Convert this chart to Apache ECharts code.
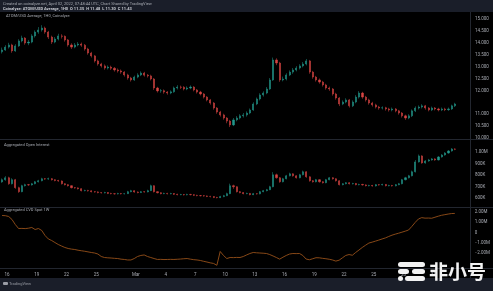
<!DOCTYPE html>
<html><head><meta charset="utf-8">
<script src="https://cdn.jsdelivr.net/npm/echarts@6/dist/echarts.min.js"></script>
<style>html,body{margin:0;padding:0;background:#000;}#c{width:493px;height:291px;}</style>
</head><body><div id="c"></div>
<script>
// ---- data (8h bars from 2022-02-15 12:00 UTC) ----
const barStart = Date.UTC(2022, 1, 15, 12);
const barStepHours = 8;
// price candles [open, close, low, high]
const priceOHLC = [
[13.62,13.70,13.55,13.80],[13.70,13.82,13.66,13.90],[13.82,13.91,13.76,14.00],[13.91,13.66,13.58,13.96],[13.66,13.87,13.62,13.94],
[13.87,14.08,13.83,14.15],[14.08,14.20,14.02,14.30],[14.20,13.99,13.92,14.24],[13.99,14.03,13.90,14.12],[14.03,14.29,13.98,14.36],
[14.29,14.45,14.22,14.52],[14.45,14.54,14.38,14.66],[14.54,14.62,14.47,14.74],[14.62,14.45,14.38,14.68],[14.45,14.24,14.16,14.50],
[14.24,14.03,13.95,14.30],[14.03,14.16,13.98,14.24],[14.16,14.29,14.10,14.38],[14.29,14.27,14.18,14.36],[14.27,14.12,14.05,14.31],
[14.12,13.91,13.84,14.16],[13.91,13.82,13.74,13.98],[13.82,13.91,13.77,13.99],[13.91,13.95,13.85,14.03],[13.95,13.90,13.83,14.01],
[13.90,13.74,13.67,13.95],[13.74,13.57,13.50,13.79],[13.57,13.45,13.38,13.62],[13.45,13.24,13.17,13.49],[13.24,13.11,13.04,13.29],
[13.11,13.03,12.96,13.16],[13.03,12.94,12.87,13.09],[12.94,12.98,12.88,13.05],[12.98,12.93,12.86,13.04],[12.93,12.86,12.79,12.98],
[12.86,12.82,12.75,12.92],[12.82,12.77,12.70,12.88],[12.77,12.65,12.58,12.81],[12.65,12.52,12.45,12.70],[12.52,12.44,12.37,12.57],
[12.44,12.56,12.40,12.62],[12.56,12.65,12.51,12.72],[12.65,12.73,12.60,12.80],[12.73,12.64,12.58,12.78],[12.64,12.61,12.54,12.69],
[12.61,12.48,12.42,12.66],[12.48,12.10,12.02,12.52],[12.10,11.98,11.91,12.15],[11.98,11.99,11.90,12.06],[11.99,11.93,11.86,12.04],
[11.93,11.89,11.82,11.97],[11.89,11.94,11.84,12.00],[11.94,12.10,11.90,12.16],[12.10,12.14,12.04,12.22],[12.14,12.13,12.06,12.20],
[12.13,12.06,12.00,12.18],[12.06,12.10,12.01,12.17],[12.10,12.14,12.05,12.21],[12.14,12.02,11.96,12.18],[12.02,11.93,11.87,12.06],
[11.93,11.85,11.79,11.98],[11.85,11.72,11.66,11.89],[11.72,11.60,11.54,11.76],[11.60,11.47,11.40,11.64],[11.47,11.26,11.19,11.51],
[11.26,11.09,11.02,11.30],[11.09,10.97,10.90,11.14],[10.97,10.84,10.77,11.02],[10.84,10.71,10.62,10.88],[10.71,10.55,10.46,10.76],
[10.55,10.76,10.50,10.84],[10.76,10.84,10.70,10.92],[10.84,10.93,10.78,11.00],[10.93,10.97,10.86,11.05],[10.97,11.05,10.90,11.12],
[11.05,11.18,11.00,11.24],[11.18,11.43,11.14,11.50],[11.43,11.64,11.38,11.70],[11.64,11.81,11.58,11.88],[11.81,11.89,11.74,11.96],
[11.89,12.06,11.84,12.14],[12.06,12.44,12.02,12.52],[12.44,13.28,12.40,13.38],[13.28,13.15,13.06,13.35],[13.15,12.44,12.36,13.20],
[12.44,12.48,12.38,12.58],[12.48,12.65,12.42,12.72],[12.65,12.77,12.60,12.84],[12.77,12.86,12.70,12.94],[12.86,12.94,12.80,13.02],
[12.94,13.03,12.88,13.10],[13.03,13.11,12.97,13.19],[13.11,13.24,13.05,13.32],[13.24,12.77,12.70,13.28],[12.77,12.56,12.49,12.82],
[12.56,12.44,12.37,12.61],[12.44,12.35,12.28,12.50],[12.35,12.23,12.16,12.40],[12.23,12.10,12.03,12.28],[12.10,12.06,11.98,12.16],
[12.06,11.85,11.78,12.10],[11.85,11.68,11.61,11.90],[11.68,11.43,11.34,11.72],[11.43,11.51,11.38,11.58],[11.51,11.60,11.46,11.67],
[11.60,11.35,11.28,11.64],[11.35,11.51,11.30,11.58],[11.51,11.72,11.46,11.80],[11.72,11.89,11.66,11.97],[11.89,11.72,11.65,11.94],
[11.72,11.60,11.53,11.77],[11.60,11.47,11.40,11.65],[11.47,11.39,11.32,11.52],[11.39,11.30,11.24,11.44],[11.30,11.26,11.19,11.35],
[11.26,11.27,11.20,11.33],[11.27,11.22,11.15,11.31],[11.22,11.18,11.11,11.27],[11.18,11.22,11.12,11.28],[11.22,11.14,11.08,11.26],
[11.14,11.05,10.98,11.18],[11.05,10.93,10.86,11.09],[10.93,10.84,10.76,10.98],[10.84,10.93,10.79,11.00],[10.93,11.14,10.88,11.20],
[11.14,11.26,11.09,11.33],[11.26,11.30,11.20,11.37],[11.30,11.35,11.24,11.42],[11.35,11.26,11.19,11.39],[11.26,11.18,11.12,11.30],
[11.18,11.26,11.13,11.32],[11.26,11.22,11.16,11.30],[11.22,11.18,11.12,11.27],[11.18,11.22,11.13,11.28],[11.22,11.19,11.13,11.27],
[11.19,11.22,11.14,11.28],[11.22,11.35,11.18,11.40],[11.35,11.43,11.30,11.48]
];
// aggregated open interest candles, thousands [open, close, low, high]
const oiOHLC = [
[740,759,732,770],[759,776,750,790],[776,724,715,785],[724,759,718,772],[759,690,680,766],
[690,655,645,698],[655,707,650,715],[707,716,700,724],[716,714,706,722],[714,724,708,731],
[724,741,719,748],[741,750,735,758],[750,767,745,776],[767,765,758,774],[765,768,758,777],
[768,759,752,774],[759,752,745,764],[752,748,741,758],[748,724,717,753],[724,716,709,729],
[716,707,700,721],[707,690,683,711],[690,688,681,696],[688,681,674,692],[681,664,657,685],
[664,666,658,672],[666,662,656,671],[662,655,649,667],[655,653,647,660],[653,647,641,658],
[647,645,639,652],[645,648,640,654],[648,640,634,652],[640,638,632,645],[638,636,630,643],
[636,639,631,645],[639,637,631,644],[637,638,631,644],[638,655,634,662],[655,664,650,671],
[664,652,646,668],[652,647,641,657],[647,655,643,661],[655,653,647,660],[653,664,649,672],
[664,707,660,716],[707,655,648,711],[655,646,640,659],[646,638,632,650],[638,640,633,646],
[640,637,631,645],[637,639,632,645],[639,632,626,643],[632,629,623,637],[629,630,624,636],
[630,628,622,635],[628,631,623,637],[631,629,623,636],[629,623,617,633],[623,621,615,628],
[621,620,614,626],[620,618,612,625],[618,614,608,622],[614,612,606,619],[612,605,599,616],
[605,603,597,610],[603,612,600,619],[612,620,607,627],[620,638,616,646],[638,707,633,725],
[707,698,680,716],[698,655,648,702],[655,647,641,660],[647,638,632,651],[638,640,633,646],
[640,629,623,644],[629,638,625,644],[638,636,630,643],[636,655,632,661],[655,664,650,670],
[664,672,658,679],[672,698,668,706],[698,802,693,825],[802,776,768,812],[776,741,733,782],
[741,767,736,775],[767,793,762,801],[793,810,788,820],[810,793,786,815],[793,776,769,798],
[776,802,771,810],[802,828,797,838],[828,784,776,833],[784,750,742,789],[750,741,734,756],
[741,759,736,766],[759,741,734,764],[741,733,726,746],[733,759,728,766],[759,776,754,783],
[776,767,760,781],[767,750,743,772],[750,716,709,755],[716,724,710,730],[724,733,719,739],
[733,724,718,738],[724,726,718,732],[726,716,710,731],[716,718,710,724],[718,714,708,723],
[714,707,701,719],[707,709,701,715],[709,705,699,714],[705,716,700,722],[716,714,708,721],
[714,718,709,724],[718,707,701,722],[707,709,701,715],[709,706,700,714],[706,716,701,722],
[716,724,711,731],[724,759,719,766],[759,776,753,784],[776,793,770,801],[793,828,788,838],
[828,914,822,930],[914,966,908,978],[966,905,898,972],[905,922,898,930],[922,931,915,940],
[931,940,925,948],[940,931,924,946],[931,957,926,965],[957,974,951,982],[974,991,968,999],
[991,1009,985,1017],[1009,1026,1003,1034],[1026,1024,1016,1032]
];
// aggregated CVD spot, millions
const cvdValues = [
1.66,1.64,1.56,1.27,0.78,0.39,0.40,0.38,0.42,0.49,
0.29,0.39,0.20,-0.29,-0.63,-0.78,-0.98,-1.17,-1.32,-1.46,
-1.56,-1.62,-1.66,-1.73,-1.78,-1.83,-1.89,-1.95,-2.00,-2.10,
-2.34,-2.44,-2.47,-2.49,-2.52,-2.54,-2.60,-2.63,-2.68,-2.68,
-2.54,-2.34,-2.24,-2.19,-2.34,-2.44,-2.54,-2.63,-2.62,-2.64,
-2.63,-2.62,-2.63,-2.61,-2.59,-2.56,-2.54,-2.60,-2.65,-2.68,
-2.73,-2.81,-2.88,-2.96,-3.02,-3.20,-1.85,-2.24,-2.54,-2.44,
-2.45,-2.43,-2.44,-2.34,-2.19,-2.05,-1.95,-1.98,-2.00,-2.02,
-2.05,-2.15,-2.29,-2.44,-2.60,-2.41,-2.24,-2.10,-2.05,-2.06,
-2.05,-2.24,-2.59,-2.66,-2.56,-2.46,-2.47,-2.52,-2.56,-2.61,
-2.68,-2.79,-2.70,-2.47,-2.24,-2.15,-2.22,-1.95,-1.71,-1.46,
-1.24,-1.03,-0.94,-0.84,-0.74,-0.63,-0.53,-0.39,-0.26,-0.16,
-0.07,0.03,0.13,0.24,0.59,0.98,1.32,1.45,1.40,1.41,
1.39,1.49,1.59,1.68,1.74,1.80,1.85,1.86
];
// x-axis tick dates (UTC month index, day) and labels
const xTickDates = [[1,16],[1,19],[1,22],[1,25],[2,1],[2,4],[2,7],[2,10],[2,13],[2,16],[2,19],[2,22],[2,25],[2,28],[2,31]];
const monthNames = ['Jan','Feb','Mar','Apr'];
const priceTicks = {min: 10, max: 15, interval: 0.5};
const oiTicks = {min: 600, max: 1000, interval: 100};
const cvdTicks = {min: -2, max: 2, interval: 1};

// ---- build ----
const H = 3600000;
const timeOf = i => barStart + i * barStepHours * H;
const priceData = priceOHLC.map((d, i) => [timeOf(i), d[0], d[1], d[2], d[3]]);
const oiData = oiOHLC.map((d, i) => [timeOf(i), d[0], d[1], d[2], d[3]]);
const cvdData = cvdValues.map((v, i) => [timeOf(i), v]);
const xMin = Date.UTC(2022, 1, 15, 7);
const xMax = xMin + 47.38 * 24 * H;
const xTickValues = xTickDates.map(d => Date.UTC(2022, d[0], d[1]));
const lastClose = priceOHLC[priceOHLC.length - 1][1];

const UP = '#22978b', DOWN = '#d64542';
const TXT = '#a9acb4';
const FONT = 'Roboto, "Noto Sans", sans-serif';
const W = 470;

function xAxisBase(gi, show) {
  return {
    type: 'value', gridIndex: gi, min: xMin, max: xMax, scale: true,
    axisLine: {show: false}, axisTick: {show: false}, splitLine: {show: false},
    axisLabel: show ? {
      show: true, customValues: xTickValues, fontSize: 4.5, color: TXT, fontFamily: FONT, margin: 4,
      formatter: v => { const d = new Date(v); return d.getUTCDate() === 1 ? monthNames[d.getUTCMonth()] : String(d.getUTCDate()); }
    } : {show: false},
    offset: show ? 15 : 0
  };
}
function yAxisBase(gi, t, fmt) {
  return {
    type: 'value', gridIndex: gi, position: 'right', min: t.min, max: t.max, interval: t.interval,
    axisLine: {show: false}, axisTick: {show: false}, splitLine: {show: false},
    axisLabel: {fontSize: 4.5, color: TXT, fontFamily: FONT, margin: 5, formatter: fmt}
  };
}

const chart = echarts.init(document.getElementById('c'), null, {renderer: 'canvas'});
chart.setOption({
  backgroundColor: '#000000',
  animation: false,
  grid: [
    {left: 0, width: W, top: 19, height: 119},
    {left: 0, width: W, top: 152, height: 46},
    {left: 0, width: W, top: 212, height: 41}
  ],
  xAxis: [xAxisBase(0, false), xAxisBase(1, false), xAxisBase(2, true)],
  yAxis: [
    yAxisBase(0, priceTicks, v => Math.abs(v - 11.5) < 1e-6 ? '' : v.toFixed(3)),
    yAxisBase(1, oiTicks, v => v >= 1000 ? (v / 1000).toFixed(2) + 'M' : v + 'K'),
    yAxisBase(2, cvdTicks, v => v === 0 ? '0' : (v < 0 ? '\u2212' : '') + Math.abs(v).toFixed(2) + 'M')
  ],
  series: [
    {
      type: 'candlestick', xAxisIndex: 0, yAxisIndex: 0, data: priceData, barWidth: 1.6, clip: false,
      encode: {x: 0, y: [1, 2, 3, 4]},
      itemStyle: {color: UP, color0: DOWN, borderColor: UP, borderColor0: DOWN, borderWidth: 0.5},
      markLine: {
        silent: true, symbol: 'none', animation: false,
        lineStyle: {opacity: 0},
        label: {show: true, position: 'end', distance: 2, formatter: () => lastClose.toFixed(3),
          backgroundColor: '#1f9e8c', color: '#ffffff', fontSize: 4.5, padding: [1, 2, 1, 2], fontFamily: FONT},
        data: [{yAxis: lastClose}]
      }
    },
    {
      type: 'candlestick', xAxisIndex: 1, yAxisIndex: 1, data: oiData, barWidth: 1.6, clip: false,
      encode: {x: 0, y: [1, 2, 3, 4]},
      itemStyle: {color: UP, color0: DOWN, borderColor: UP, borderColor0: DOWN, borderWidth: 0.5}
    },
    {
      type: 'line', xAxisIndex: 2, yAxisIndex: 2, data: cvdData, showSymbol: false, clip: false,
      lineStyle: {color: '#96501a', width: 0.9}
    }
  ],
  graphic: [
    {type: 'rect', shape: {x: 0, y: 0, width: 493, height: 12}, style: {fill: '#1a1e29'}, z: -1},
    {type: 'rect', shape: {x: 0, y: 278, width: 493, height: 13}, style: {fill: '#1a1e29'}, z: -1},
    {type: 'line', shape: {x1: 0, y1: 139.5, x2: 493, y2: 139.5}, style: {stroke: '#22262f', lineWidth: 1}},
    {type: 'line', shape: {x1: 0, y1: 207.5, x2: 493, y2: 207.5}, style: {stroke: '#22262f', lineWidth: 1}},
    {type: 'line', shape: {x1: 0, y1: 268.5, x2: 493, y2: 268.5}, style: {stroke: '#22262f', lineWidth: 1}},
    {type: 'line', shape: {x1: 470.5, y1: 12, x2: 470.5, y2: 278}, style: {stroke: '#22262f', lineWidth: 1}},
    {type: 'text', x: 3, y: 3.5, style: {text: 'Created on coinalyze.net, April 02, 2022, 07:48:44 UTC, Chart Shared by TradingView', fill: '#a8abb3', font: '4px ' + FONT, textVerticalAlign: 'middle'}},
    {type: 'text', x: 3, y: 9, style: {text: 'Coinalyze: ATOM/USD Average, 1H0  O 11.35  H 11.48  L 11.30  C 11.43', fill: '#c8cbd2', font: 'bold 4px ' + FONT, textVerticalAlign: 'middle'}},
    {type: 'text', x: 6, y: 16, style: {text: 'ATOM/USD Average, 1H0, Coinalyze', fill: '#a8abb3', font: '4px ' + FONT, textVerticalAlign: 'middle'}},
    {type: 'text', x: 4, y: 145, style: {text: 'Aggregated Open Interest', fill: '#a8abb3', font: '4px ' + FONT, textVerticalAlign: 'middle'}},
    {type: 'text', x: 4, y: 209.5, style: {text: 'Aggregated CVD Spot 1W', fill: '#a8abb3', font: '4px ' + FONT, textVerticalAlign: 'middle'}},
    {type: 'rect', shape: {x: 3, y: 282, width: 5, height: 3, r: 1}, style: {fill: '#9a9da5'}},
    {type: 'text', x: 9, y: 283.5, style: {text: 'TradingView', fill: '#9a9da5', font: '4px ' + FONT, textVerticalAlign: 'middle'}},
    // watermark
    {type: 'rect', shape: {x: 398, y: 262, width: 27, height: 5, r: 2.5}, style: {fill: '#f2f2f2'}, z: 20},
    {type: 'rect', shape: {x: 398, y: 269, width: 11, height: 5, r: 2.5}, style: {fill: '#f2f2f2'}, z: 20},
    {type: 'rect', shape: {x: 412, y: 269, width: 13, height: 5, r: 2.5}, style: {fill: '#f2f2f2'}, z: 20},
    {type: 'circle', shape: {cx: 400.5, cy: 278.5, r: 2.5}, style: {fill: '#f2f2f2'}, z: 20},
    {type: 'rect', shape: {x: 405, y: 276, width: 20, height: 5, r: 2.5}, style: {fill: '#f2f2f2'}, z: 20},
    {type: 'text', x: 429, y: 272, style: {text: '非小号', fill: '#f2f2f2', font: 'bold 19px "Noto Sans CJK SC"', textVerticalAlign: 'middle'}, z: 20}
  ]
});
</script></body></html>
